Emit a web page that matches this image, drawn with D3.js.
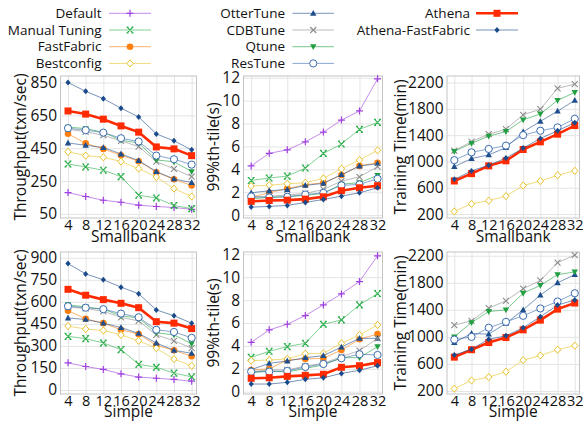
<!DOCTYPE html>
<html>
<head>
<meta charset="utf-8">
<script src="https://cdn.jsdelivr.net/npm/d3@7"></script>
<style>
  body { margin: 0; background: #fff; }
  svg { display: block; font-family: "Open Sans", sans-serif; }
</style>
</head>
<body>
<svg id="chart" width="584" height="421"></svg>
<script>
var threads = [4, 8, 12, 16, 20, 24, 28, 32];

var methods = ["Default", "Manual Tuning", "FastFabric", "Bestconfig", "OtterTune",
               "CDBTune", "Qtune", "ResTune", "Athena", "Athena-FastFabric"];
var trainMethods = ["Bestconfig", "OtterTune", "CDBTune", "Qtune", "ResTune",
                    "Athena", "Athena-FastFabric"];

// rows follow the order of methods / trainMethods
var tpSmallbank = [
  [180, 156, 133, 121, 103, 95, 89, 78],
  [354, 336, 316, 277, 164, 147, 101, 82],
  [538, 480, 446, 407, 371, 304, 261, 223],
  [428, 405, 395, 369, 326, 275, 204, 156],
  [482, 468, 454, 415, 375, 308, 263, 241],
  [566, 550, 529, 495, 460, 369, 324, 277],
  [578, 570, 547, 499, 482, 379, 367, 308],
  [572, 560, 545, 511, 491, 405, 383, 350],
  [677, 658, 627, 586, 548, 458, 446, 405],
  [850, 797, 752, 694, 641, 537, 495, 440]
];
var latSmallbank = [
  [4.3, 5.4, 5.7, 6.4, 7.25, 8.3, 9.1, 11.9],
  [3.03, 3.24, 3.41, 4.11, 5.39, 6.21, 7.49, 8.1],
  [1.57, 1.95, 2.33, 2.65, 2.83, 3.5, 4.3, 4.58],
  [2.54, 2.62, 2.74, 2.83, 3.21, 4.05, 4.81, 5.66],
  [1.95, 2.13, 2.24, 2.6, 2.77, 3.53, 4.29, 4.49],
  [1.52, 1.66, 1.75, 1.9, 2.24, 2.97, 3.35, 4.23],
  [1.43, 1.55, 1.63, 1.72, 1.9, 2.71, 2.83, 3.47],
  [1.63, 1.55, 1.6, 1.8, 1.95, 2.6, 2.68, 3.18],
  [1.2, 1.28, 1.31, 1.4, 1.6, 2.13, 2.39, 2.57],
  [0.7, 0.76, 0.85, 1.11, 1.37, 1.66, 1.95, 2.39]
];
var trainSmallbank = [
  [240, 356, 405, 473, 634, 702, 790, 858],
  [920, 1045, 1100, 1210, 1450, 1610, 1765, 1930],
  [1164, 1303, 1415, 1491, 1710, 1795, 2112, 2175],
  [1154, 1276, 1385, 1456, 1634, 1722, 1930, 2050],
  [1020, 1139, 1190, 1241, 1400, 1467, 1518, 1650],
  [703, 815, 933, 1010, 1182, 1298, 1415, 1546],
  [728, 856, 944, 1051, 1203, 1350, 1467, 1590]
];
var tpSimple = [
  [185, 160, 140, 110, 88, 80, 72, 60],
  [365, 350, 320, 275, 175, 155, 115, 90],
  [540, 485, 455, 410, 380, 305, 270, 230],
  [435, 415, 405, 375, 335, 285, 210, 165],
  [490, 480, 455, 425, 385, 320, 270, 250],
  [565, 555, 535, 495, 470, 375, 335, 285],
  [580, 565, 550, 505, 490, 390, 375, 315],
  [570, 560, 550, 520, 495, 410, 395, 355],
  [685, 645, 615, 590, 560, 465, 455, 418],
  [860, 790, 750, 700, 655, 545, 505, 455]
];
var latSimple = [
  [4.31, 5.4, 5.89, 6.65, 7.58, 8.54, 9.62, 11.87],
  [3.0, 3.53, 3.94, 4.23, 5.89, 6.27, 7.58, 8.57],
  [1.9, 2.0, 2.77, 2.86, 2.92, 3.64, 4.58, 5.04],
  [2.71, 2.77, 2.86, 3.32, 3.35, 4.23, 4.96, 5.83],
  [1.92, 2.48, 2.68, 2.97, 3.15, 3.9, 4.66, 4.66],
  [1.75, 1.9, 1.9, 2.24, 2.48, 3.06, 3.59, 4.66],
  [1.66, 1.81, 1.72, 2.04, 2.33, 2.97, 2.97, 3.94],
  [1.75, 1.75, 1.81, 2.16, 2.42, 2.92, 3.27, 3.21],
  [1.17, 1.22, 1.34, 1.43, 1.52, 2.13, 2.27, 2.54],
  [0.67, 0.67, 0.82, 1.08, 1.22, 1.6, 1.87, 2.27]
];
var trainSimple = [
  [235, 355, 405, 485, 655, 725, 810, 870],
  [915, 1050, 1040, 1200, 1400, 1617, 1800, 1920],
  [1173, 1237, 1425, 1533, 1712, 1834, 2097, 2210],
  [1000, 1212, 1375, 1400, 1645, 1760, 1920, 1960],
  [960, 1000, 1135, 1222, 1311, 1420, 1523, 1645],
  [700, 810, 916, 990, 1104, 1247, 1410, 1500],
  [730, 818, 965, 1015, 1135, 1296, 1470, 1545]
];

var tpSmallbankTicks = [50, 250, 450, 650, 850];
var tpSimpleTicks = [0, 150, 300, 450, 600, 750, 900];
var latTicks = [0, 2, 4, 6, 8, 10, 12];
var trainTicks = [200, 600, 1000, 1400, 1800, 2200];

var style = {
  "Default":           { color: "#a040e0", marker: "plus" },
  "Manual Tuning":     { color: "#2fb04f", marker: "star" },
  "FastFabric":        { color: "#ff7f0e", marker: "circle" },
  "Bestconfig":        { color: "#e8c22a", marker: "diamondOpen" },
  "OtterTune":         { color: "#1f4e8c", marker: "triUp" },
  "CDBTune":           { color: "#8c8c8c", marker: "cross" },
  "Qtune":             { color: "#20a040", marker: "triDown" },
  "ResTune":           { color: "#3a6cb0", marker: "circleOpen" },
  "Athena":            { color: "#ff2a00", marker: "square" },
  "Athena-FastFabric": { color: "#1a4a8a", marker: "diamond" }
};

var svg = d3.select("#chart");

function drawMarker(g, name, x, y) {
  var s = style[name], c = s.color;
  var m = g.append("g").attr("transform", "translate(" + x + "," + y + ")");
  if (s.marker == "plus") {
    m.append("path").attr("d", "M-3.5,0H3.5M0,-3.5V3.5").attr("stroke", c).attr("stroke-width", 1.2);
  } else if (s.marker == "cross") {
    m.append("path").attr("d", "M-3,-3L3,3M-3,3L3,-3").attr("stroke", c).attr("stroke-width", 1.1);
  } else if (s.marker == "star") {
    m.append("path").attr("d", "M-3,-3L3,3M-3,3L3,-3M-3.5,-3H-1.5M1.5,-3H3.5M-3.5,3H-1.5M1.5,3H3.5")
      .attr("stroke", c).attr("stroke-width", 1.1);
  } else if (s.marker == "circle") {
    m.append("circle").attr("r", 3.3).attr("fill", c);
  } else if (s.marker == "circleOpen") {
    m.append("circle").attr("r", 3.6).attr("fill", "#fff").attr("stroke", c).attr("stroke-width", 1);
  } else if (s.marker == "diamondOpen") {
    m.append("path").attr("d", "M0,-3.6L3.2,0L0,3.6L-3.2,0Z").attr("fill", "#fff")
      .attr("stroke", c).attr("stroke-width", 1);
  } else if (s.marker == "diamond") {
    m.append("path").attr("d", "M0,-3L2.6,0L0,3L-2.6,0Z").attr("fill", c);
  } else if (s.marker == "triUp") {
    m.append("path").attr("d", "M0,-3.4L3.2,2.4H-3.2Z").attr("fill", c);
  } else if (s.marker == "triDown") {
    m.append("path").attr("d", "M0,3.4L3.2,-2.4H-3.2Z").attr("fill", c);
  } else if (s.marker == "square") {
    m.append("rect").attr("x", -3.5).attr("y", -3.5).attr("width", 7).attr("height", 7).attr("fill", c);
  }
}

function lineWidth(name) { return name == "Athena" ? 2.6 : 1; }
function lineOpacity(name) { return name == "Athena" ? 1 : 0.6; }

var panels = [
  { left: 60.5, right: 196.5, top: 76, bottom: 218, dom: [25, 890], ticks: tpSmallbankTicks,
    ytitle: "Throughput(txn/sec)", xtitle: "Smallbank", xt: 24, tx: 21, names: methods, vals: tpSmallbank },
  { left: 243.5, right: 382.5, top: 76, bottom: 218, dom: [-0.25, 12.15], ticks: latTicks,
    ytitle: "99%th-tile(s)", xtitle: "Smallbank", xt: 24, tx: 214, names: methods, vals: latSmallbank },
  { left: 447, right: 579.5, top: 76, bottom: 218, dom: [140, 2300], ticks: trainTicks,
    ytitle: "Training Time(min)", xtitle: "Smallbank", xt: 24, tx: 401, names: trainMethods, vals: trainSmallbank },
  { left: 60.5, right: 196.5, top: 252, bottom: 394, dom: [-27, 939], ticks: tpSimpleTicks,
    ytitle: "Throughput(txn/sec)", xtitle: "Simple", xt: 22.5, tx: 21, names: methods, vals: tpSimple },
  { left: 243.5, right: 382.5, top: 252, bottom: 394, dom: [-0.2, 12.2], ticks: latTicks,
    ytitle: "99%th-tile(s)", xtitle: "Simple", xt: 22.5, tx: 214, names: methods, vals: latSimple },
  { left: 447, right: 579.5, top: 252, bottom: 394, dom: [155, 2255], ticks: trainTicks,
    ytitle: "Training Time(min)", xtitle: "Simple", xt: 22.5, tx: 401, names: trainMethods, vals: trainSimple }
];

panels.forEach(function (p) {
  var x = d3.scaleLinear().domain([2.3, 33.1]).range([p.left, p.right]);
  var y = d3.scaleLinear().domain(p.dom).range([p.bottom, p.top]);
  var g = svg.append("g");

  // grid
  g.append("g").attr("transform", "translate(0," + p.bottom + ")")
    .call(d3.axisBottom(x).tickValues(threads).tickSize(-(p.bottom - p.top)).tickFormat(""))
    .call(function (a) { a.select(".domain").remove(); a.selectAll("line").attr("stroke", "#e4e4e4"); });
  g.append("g").attr("transform", "translate(" + p.left + ",0)")
    .call(d3.axisLeft(y).tickValues(p.ticks).tickSize(-(p.right - p.left)).tickFormat(""))
    .call(function (a) { a.select(".domain").remove(); a.selectAll("line").attr("stroke", "#e4e4e4"); });

  g.append("rect").attr("x", p.left).attr("y", p.top)
    .attr("width", p.right - p.left).attr("height", p.bottom - p.top)
    .attr("fill", "none").attr("stroke", "#c4c4c4").attr("stroke-width", 1);

  // tick labels
  g.append("g").attr("transform", "translate(" + p.left + ",0)")
    .call(d3.axisLeft(y).tickValues(p.ticks).tickSize(0).tickPadding(3.5).tickFormat(d3.format("d")))
    .call(function (a) {
      a.select(".domain").remove();
      a.selectAll("text").attr("font-size", 15.5).attr("fill", "#111").attr("font-family", "Open Sans");
    });
  g.append("g").attr("transform", "translate(0," + p.bottom + ")")
    .call(d3.axisBottom(x).tickValues(threads).tickSize(0).tickPadding(2))
    .call(function (a) {
      a.select(".domain").remove();
      a.selectAll("text").attr("font-size", 14.5).attr("fill", "#111").attr("font-family", "Open Sans");
    });

  g.append("text").attr("x", (p.left + p.right) / 2).attr("y", p.bottom + p.xt)
    .attr("text-anchor", "middle").attr("font-size", 15.5).attr("fill", "#111").text(p.xtitle);
  g.append("text")
    .attr("transform", "translate(" + p.tx + "," + (p.top + p.bottom) / 2 + ") rotate(-90)")
    .attr("text-anchor", "middle").attr("dy", "0.35em")
    .attr("font-size", 15.5).attr("fill", "#111").text(p.ytitle);

  var line = d3.line().x(function (d, i) { return x(threads[i]); }).y(function (d) { return y(d); });

  p.names.forEach(function (name, k) {
    var vals = p.vals[k];
    g.append("path").attr("d", line(vals)).attr("fill", "none")
      .attr("stroke", style[name].color).attr("stroke-width", lineWidth(name))
      .attr("stroke-opacity", lineOpacity(name));
    vals.forEach(function (v, i) { drawMarker(g, name, x(threads[i]), y(v)); });
  });
});

// legend
var legendCols = [
  { right: 101.5, l0: 109, l1: 151, items: methods.slice(0, 4) },
  { right: 285, l0: 292.5, l1: 334, items: methods.slice(4, 8) },
  { right: 470, l0: 476, l1: 518, items: methods.slice(8) }
];
legendCols.forEach(function (col) {
  col.items.forEach(function (name, i) {
    var yy = 13.3 + i * 16.7;
    var lg = svg.append("g");
    lg.append("text").attr("x", col.right).attr("y", yy).attr("dy", "0.35em")
      .attr("text-anchor", "end").attr("font-size", 13.5).attr("fill", "#111").text(name);
    lg.append("line").attr("x1", col.l0).attr("x2", col.l1).attr("y1", yy).attr("y2", yy)
      .attr("stroke", style[name].color).attr("stroke-width", lineWidth(name))
      .attr("stroke-opacity", lineOpacity(name));
    drawMarker(lg, name, (col.l0 + col.l1) / 2, yy);
  });
});
</script>
</body>
</html>
